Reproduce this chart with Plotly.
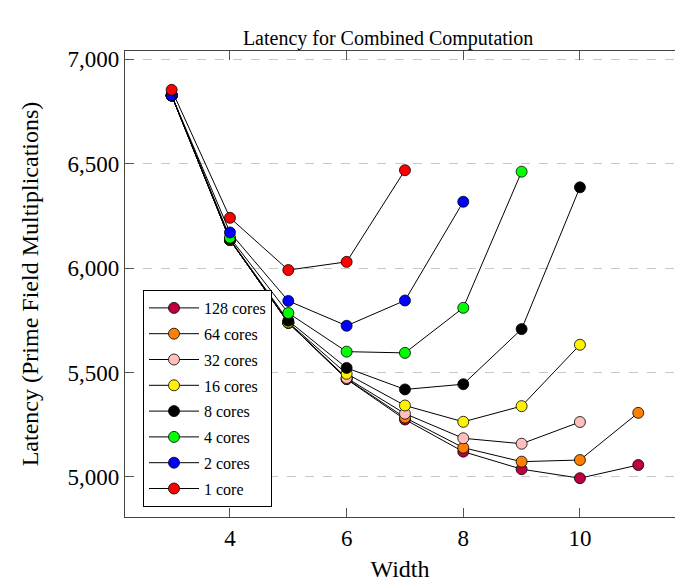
import plotly.graph_objects as go

widths = [3, 4, 5, 6, 7, 8, 9, 10, 11]

series_names = ["128 cores", "64 cores", "32 cores", "16 cores", "8 cores",
                "4 cores", "2 cores", "1 core"]
colors = ["#BF0040", "#FF8000", "#FFBFBF", "#FFF200", "#000000",
          "#00FF00", "#0000FF", "#FF0000"]

lat_128 = [6827, 6135, 5738, 5468, 5275, 5121, 5037, 4994, 5057]
lat_64 = [6827, 6135, 5738, 5470, 5284, 5140, 5073, 5081, 5307]
lat_32 = [6827, 6135, 5738, 5474, 5303, 5185, 5159, 5263]
lat_16 = [6827, 6135, 5740, 5494, 5342, 5264, 5339, 5633]
lat_8 = [6827, 6138, 5748, 5522, 5419, 5444, 5708, 6387]
lat_4 = [6827, 6146, 5785, 5600, 5594, 5810, 6462]
lat_2 = [6827, 6171, 5843, 5724, 5845, 6318]
lat_1 = [6854, 6241, 5991, 6030, 6469]

all_series = [lat_128, lat_64, lat_32, lat_16, lat_8, lat_4, lat_2, lat_1]

y_ticks = [5000, 5500, 6000, 6500, 7000]
x_ticks = [4, 6, 8, 10]

fig = go.Figure()
for i, (name, col, vals) in enumerate(zip(series_names, colors, all_series)):
    fig.add_trace(go.Scatter(
        x=widths[:len(vals)], y=vals, name=name, mode="lines+markers",
        line=dict(color="black", width=1),
        marker=dict(color=col, size=11, line=dict(color="black", width=0.8)),
        legendgroup=name,
    ))

serif = "Liberation Serif"
fig.update_layout(
    width=675, height=588,
    margin=dict(l=125, r=0, t=51, b=71),
    paper_bgcolor="white", plot_bgcolor="white",
    font=dict(family=serif, color="black"),
    title=dict(text="Latency for Combined Computation", x=0.575, xanchor="center",
               y=1 - 38 / 588, yanchor="middle", font=dict(size=20, family=serif)),
    xaxis=dict(
        range=[2.2, 11.63], tickvals=x_ticks, ticks="inside", ticklen=9,
        tickcolor="#555", showline=True, linecolor="#444", linewidth=1.2,
        mirror="ticks", showgrid=False, zeroline=False,
        tickfont=dict(size=23, family=serif),
        title=dict(text="Width", font=dict(size=24, family=serif), standoff=10),
    ),
    yaxis=dict(
        range=[4808, 7040], tickvals=y_ticks, tickformat=",d", ticks="inside",
        ticklen=9, tickcolor="#555", showline=True, linecolor="#444", linewidth=1.2,
        mirror=False, showgrid=True, gridcolor="#c8c8c8", griddash="dash",
        gridwidth=1, zeroline=False,
        tickfont=dict(size=23, family=serif),
        title=dict(text="Latency (Prime Field Multiplications)",
                   font=dict(size=24, family=serif), standoff=22),
    ),
    legend=dict(
        x=(143 - 125) / 550, y=(517 - 290) / 466, xanchor="left", yanchor="top",
        bgcolor="white", bordercolor="black", borderwidth=1,
        font=dict(size=16, family=serif), tracegroupgap=2, itemwidth=50,
        traceorder="grouped",
    ),
)

fig.write_html("out.html")
